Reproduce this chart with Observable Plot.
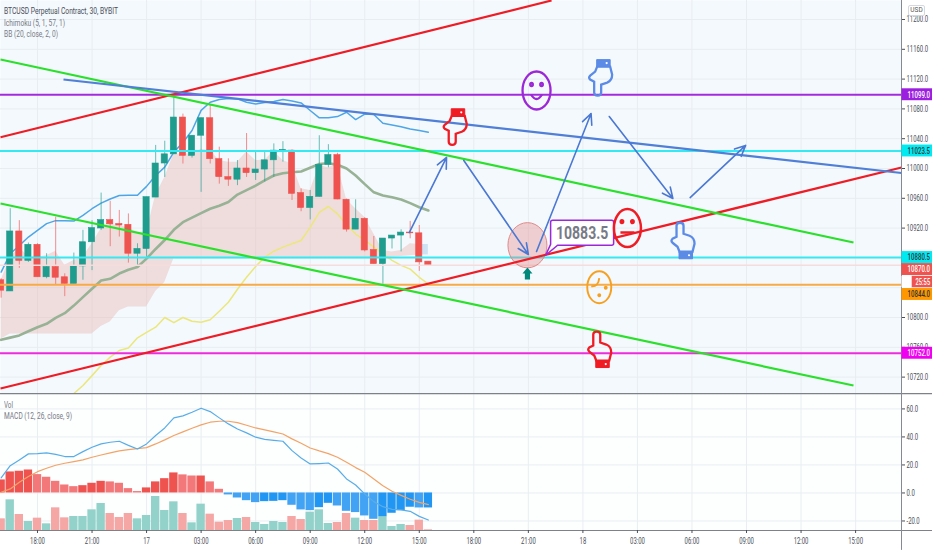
<!DOCTYPE html>
<html><head><meta charset="utf-8">
<script src="https://cdn.jsdelivr.net/npm/d3@7"></script>
<script src="https://cdn.jsdelivr.net/npm/@observablehq/plot@0.6"></script>
<style>
html,body{margin:0;padding:0;background:#fff;overflow:hidden}
#wrap{position:relative;width:932px;height:550px;font-family:Roboto,sans-serif}
svg{display:block}
.lg{position:absolute;left:4px;font-size:9.5px;line-height:11px;color:#787b86;white-space:nowrap;transform-origin:0 50%}
#usd{position:absolute;left:908px;top:5px;width:15px;height:9px;border:1px solid #d5d8de;border-radius:2px;background:#fff;font-size:6.5px;line-height:9px;text-align:center;color:#555}
</style></head><body>
<div id="wrap">
<div id="main"></div><div id="sub"></div>
<div class="lg" data-w="114" style="top:5px;color:#4a4e58">BTCUSD Perpetual Contract, 30, BYBIT</div>
<div class="lg" data-w="61" style="top:17px">Ichimoku (5, 1, 57, 1)</div>
<div class="lg" data-w="54" style="top:28px">BB (20, close, 2, 0)</div>
<div class="lg" data-w="9" style="top:399px">Vol</div>
<div class="lg" data-w="68" style="top:410px">MACD (12, 26, close, 9)</div>
<div id="usd">USD</div>
</div>
<script>
// half-hour bars, index 0 = 18:00
const firstBar = -4;
const opens = [10850,10835,10915.5,10876,10897.6,10854,10867.7,10854,10845,10868.6,10901,10919.5,10930.7,10925.5,10924.4,10885.6,10892,10961,11006.7,11019,11068.4,11017,11044,11067.5,11012.5,10988.4,10985,11000,10993.7,10998.6,11011,11024,11024,10967,10947,10962,11005,11018,10958,10918,10932.5,10890.7,10871.7,10906,10910,10914,10913,10875];
const highs = [10852,10946,10930,10900,10899,10885.6,10934.7,10858.7,10886.5,10917,10930,10967,10956,10943.7,10939,10899,10961.5,11031,11036.6,11096.5,11073,11044,11067.5,11084.5,11028.6,11013,11010.7,11047,11022,11022,11033,11036,11025,10972.7,10970.5,11044,11032,11020.5,10959,10958,10934,10908.8,10906,10910,10917.7,10929,10923.5,10875];
const lows = [10826,10835,10866,10874,10854,10852,10844,10828,10845,10850,10863,10917,10895,10908,10873,10870,10881,10961,10988,11019,11006,11014,10968,11006,10979,10976,10977,10988,10984,10982,10988,11008.5,10957,10942,10931,10961.5,11001,10958,10914.6,10918,10888,10871.7,10844.4,10892,10888,10905.7,10862,10870];
const closes = [10836,10915.5,10876,10897.6,10854,10867.7,10853.4,10845,10868.6,10901,10920,10930.7,10925,10923.5,10885.6,10892,10961.5,11006.7,11019,11068.4,11017,11044,11067.5,11012.5,10988.4,10985,11000,10993.7,10998.6,11011,11024,11024.6,10966,10947,10962,11005,11018,10958.4,10918,10932.5,10890,10871.7,10906,10910,10914,10913,10874,10870];
const cloudTop = [10850,10880,10894,10881,10881,10883,10889,10870,10876.6,10881,10899,10919,10925,10923.5,10920,10914.6,10914.6,10964,10988,11019.6,11019,11019.7,11026,11024,11010.7,11008.5,11008.5,11022,11010.7,11011,11023,11010.7,11006,10972.7,10970.5,11004,11001,11006,10958.4,10946,10934.7,10912,10890,10888,10890,10899,10898,10898];
const cloudBottom = [10771,10778,10778,10778,10778,10778,10778,10778,10778,10778,10778,10788,10794,10809,10814,10814,10814,10835,10847,10879,10879,10879,10879,10879,10879,10879,10879,10879,10879,10879,10879,10879,10879,10879,10879,10879,10879,10879,10879,10879,10879,10879,10880,10881,10882,10883,10884,10884];
const blueLine = [10861,10885.6,10896.7,10908,10917,10926,10930,10930,10929.5,10937,10946,10953.5,10959,10963.8,10964,10964,10976,10990.6,11001.8,11022,11035,11051,11078,11089,11092.5,11094,11093.4,11089,11086.7,11088.5,11090,11092.5,11090.7,11088,11077.8,11068,11068,11069.7,11075.5,11065.7,11073,11072.4,11060.8,11058.5,11056,11053,11051,11048.7];
const greenLine = [10770,10773,10776,10781.6,10787,10791.5,10799.6,10805.8,10816,10827.3,10838.5,10849.7,10852,10859,10864,10867.7,10879,10892,10904,10917.7,10928,10934,10940,10946,10950,10955,10965,10971,10977,10984,10990.6,10993.7,10995,10996,11001,11006,11007,11005,11000,10990.6,10979,10968,10963.8,10961.5,10958.4,10953.5,10948,10943.7];
const yellowBars = d3.range(4,44);
const yellowLine = [10698,10708.7,10722,10735.6,10746.8,10755.7,10759,10772.7,10780,10787,10800,10793,10800,10795,10793.7,10797,10808.5,10820.5,10838,10854,10868.6,10881,10889,10894.5,10899,10903.4,10921,10941,10949,10939,10925,10912,10904,10894.5,10885.6,10876.6,10870,10865,10854,10845];
const volumes = [35,92,48,27,37,20,68,38,42,42,62,81,51,39,51,35,45,102,60,86,51,23,79,49,25,30,36,39,24,18,27,24,42,33,55,62,21,24,51,37,30,30,42,12,18,15,31,2];
const macdHist = [9.3,15,15.5,16.4,13.1,11.2,8.3,5.7,4.5,5.2,6.9,8.3,7.9,6.9,3.1,1,3.6,7.9,10.2,14.3,12.9,12.1,12.1,7.9,2.6,-1.4,-3.6,-5.5,-6.9,-6.2,-6,-5.5,-8.8,-12.1,-12.6,-10.5,-7.4,-9.3,-13.1,-14,-16.4,-18.8,-16.9,-14.5,-12.6,-10.2,-10.7,-10.7];
const macdLine = [10.7,19.5,23.6,27.9,28.1,28.6,27.6,26,26,29.5,32.6,35,36.2,36.9,34,31.4,35,41,46.4,53.6,55,57.6,60.5,58.1,53.6,49.3,45.7,42.9,39.8,38.3,37.6,36.9,30.2,25,20.7,21,21.4,17.1,10,5.7,-0.7,-6.2,-9.8,-11.7,-12.1,-13.1,-16.7,-19.3];
const signalLine = [0.5,2.9,7.6,11.7,15.2,17.6,19.8,21.2,22.4,23.6,25.5,27.1,28.6,30,31,31.7,32.4,35,37.9,41,43.6,46.2,48.6,50.5,51.2,51.2,50.2,48.3,46.4,45,43.6,42.1,38.6,35.5,32.1,30,28.1,25.5,21.9,18.1,14.8,10,5.2,1.2,-1.7,-4.5,-6.7,-8.3];

const timeTicks = [0,6,12,18,24,30,36,42,48,54,60,66,72,78,84,90];
const timeLabels = ["18:00","21:00","17","03:00","06:00","09:00","12:00","15:00","18:00","21:00","18","03:00","06:00","09:00","12:00","15:00"];
const priceTicks = [10720,10760,10800,10840,10880,10920,10960,11000,11040,11080,11120,11160,11200];
const priceLabelled = [10720,10760,10800,10920,10960,11000,11040,11080,11120,11160,11200];
const macdTicks = [-20,0,20,40,60];

const levelPrices = [11099,11023.5,10880.5,10870,10844,10752];
const levelColors = ["#a32bdc","#35e9f2","#35e9f2","#f6dcdc","#f8aa45","#ee2bde"];
const levelWidths = [2,2,2,1.5,2,2];

const tagPrices = [11099,11023.5,10880.5,10864.4,10830.9,10752];
const tagLabels = ["11099.0","11023.5","10880.5","10870.0","10844.0","10752.0"];
const tagFills = ["#9c1fe0","#00eaf2","#00eaf2","#ef5350","#ff9800","#f000f0"];
const tagText = ["#fff","#333","#333","#fff","#333","#fff"];

const trendX1 = [-4.07,-4.07,-4.07,-4.07,2.86];
const trendP1 = [11042,10704.7,11146.3,10953,11119.5];
const trendX2 = [56.55,95.05,89.77,89.77,95.05];
const trendP2 = [11225.5,11001.3,10900.7,10708.7,10994];
const trendColors = ["#ee1c25","#ee1c25","#2be02b","#2be02b","#4f7fd6"];

const arrowX1 = [40.9,46.9,54.9,62.9,71.8];
const arrowP1 = [10914,11010.7,10888.6,11069.8,10961];
const arrowX2 = [45,54,60.9,69.9,77.9];
const arrowP2 = [11014.8,10884.6,11073.8,10959.7,11031];

const bars = opens.map((o,k)=>({i:firstBar+k,o,h:highs[k],l:lows[k],c:closes[k],top:cloudTop[k],bot:cloudBottom[k],blue:blueLine[k],green:greenLine[k],vol:volumes[k],hist:macdHist[k],prev:k?macdHist[k-1]:0,macd:macdLine[k],sig:signalLine[k]}));
const yellow = yellowLine.map((p,k)=>({i:yellowBars[k],p}));
const GREEN="#1f9c8d", RED="#ef5350";
const up=d=>d.c>=d.o;

// icon shapes
function ell(c,x,y,rx,ry){const k=.5523;c.moveTo(x+rx,y);c.bezierCurveTo(x+rx,y+k*ry,x+k*rx,y+ry,x,y+ry);c.bezierCurveTo(x-k*rx,y+ry,x-rx,y+k*ry,x-rx,y);c.bezierCurveTo(x-rx,y-k*ry,x-k*rx,y-ry,x,y-ry);c.bezierCurveTo(x+k*rx,y-ry,x+rx,y-k*ry,x+rx,y);c.closePath();}
const hand=s=>({draw(c){
  c.moveTo(-6,s*-4);c.lineTo(-6,s*-15);c.quadraticCurveTo(-6,s*-18,-2.5,s*-18);c.quadraticCurveTo(1,s*-18,1,s*-15);c.lineTo(1,s*-7);
  c.lineTo(7,s*-5);c.quadraticCurveTo(12,s*-3,12,s*3);c.lineTo(10,s*11);c.lineTo(-3,s*11);c.lineTo(-5,s*6);c.lineTo(-10,s*2);c.quadraticCurveTo(-12,0,-10,s*-2);c.closePath();
}});
const cuff=s=>({draw(c){c.moveTo(-3.5,s*11);c.lineTo(10,s*11);c.lineTo(10,s*18);c.lineTo(-3.5,s*18);c.closePath();}});
const faceSmile={draw(c){ell(c,0,0,14,19);ell(c,-5,-6,1.3,1.5);ell(c,5,-6,1.3,1.5);c.moveTo(-5.5,4);c.quadraticCurveTo(0,13,5.5,4);}};
const faceFlat={draw(c){ell(c,0,0,13.5,19);ell(c,-5.5,-6.5,1.2,1.4);ell(c,5,-6.5,1.2,1.4);c.moveTo(-7,4.5);c.lineTo(7,4.5);}};
const faceOdd={draw(c){ell(c,0,0,12,16);c.moveTo(-8,-1);c.quadraticCurveTo(-1,0,0,-9);ell(c,0,8,1,1);ell(c,6.5,.5,1,1);}};
const upMark={draw(c){c.moveTo(0,-6);c.lineTo(5,0);c.lineTo(2.6,0);c.lineTo(2.6,6);c.lineTo(-2.6,6);c.lineTo(-2.6,0);c.lineTo(-5,0);c.closePath();}};
const zone={draw(c){ell(c,0,0,19.5,22.6);}};
const callout={draw(c){c.moveTo(0,0);c.lineTo(5,-11);c.lineTo(5,-33);c.quadraticCurveTo(5,-35,7,-35);c.lineTo(66,-35);c.quadraticCurveTo(68,-35,68,-33);c.lineTo(68,-12);c.quadraticCurveTo(68,-10,66,-10);c.lineTo(12,-10);c.closePath();}};

const handsDown=[{i:45.9,p:11056,col:"#f01c24"},{i:61.9,p:11122,col:"#5b8be6"}];
const handsUp=[{i:70.96,p:10903,col:"#5b8be6"},{i:61.8,p:10757,col:"#f01c24"}];
const allHands=[...handsDown.map(d=>({...d,s:-1})),...handsUp.map(d=>({...d,s:1}))];
const handMarks=allHands.flatMap(d=>[
  Plot.dot([d],{x:"i",y:"p",symbol:hand(d.s),stroke:d.col,fill:"none",strokeWidth:2.3}),
  Plot.dot([d],{x:"i",y:"p",symbol:cuff(d.s),stroke:d.col,fill:d.col,strokeWidth:1}),
  Plot.dot([d],{x:"i",y:"p",r:1.1,fill:"#fff",dx:6.5,dy:d.s*14.5})
]);

const font='Roboto,sans-serif';
const xDomain=[-4.07,95.05];
const main=Plot.plot({
  width:932,height:393,marginTop:0,marginBottom:0,marginLeft:0,marginRight:31,
  x:{domain:xDomain,axis:null},
  y:{domain:[10698,11225.5],axis:null},
  style:{background:"#fff",fontFamily:font,color:"#4a4e58",overflow:"hidden"},
  marks:[
    Plot.frame({fill:"#f4f9fd",stroke:"none"}),
    Plot.gridX(timeTicks,{stroke:"#e8edf2",strokeOpacity:1}),
    Plot.gridY(priceTicks,{stroke:"#e8edf2",strokeOpacity:1}),
    Plot.areaY(bars.filter(d=>d.i<=42),{x:"i",y1:"bot",y2:"top",fill:"#e9b9b5",fillOpacity:.44}),
    Plot.areaY(bars.filter(d=>d.i>=42),{x:"i",y1:"bot",y2:"top",fill:"#bcd8ec",fillOpacity:.7}),
    Plot.line(bars,{x:"i",y:"green",stroke:"#97b294",strokeWidth:2.6}),
    Plot.line(yellow,{x:"i",y:"p",stroke:"#ebe77a",strokeWidth:1.5}),
    Plot.line(bars,{x:"i",y:"blue",stroke:"#4ea6e6",strokeWidth:1.5}),
    Plot.ruleX(bars,{x:"i",y1:"l",y2:"h",stroke:d=>up(d)?GREEN:RED,strokeWidth:1,strokeOpacity:.65}),
    Plot.rect(bars,{x1:d=>d.i-.34,x2:d=>d.i+.34,y1:"o",y2:"c",fill:d=>up(d)?GREEN:RED,stroke:d=>up(d)?GREEN:RED,strokeWidth:.6}),
    Plot.ruleY(levelPrices,{y:d=>d,stroke:(d,k)=>levelColors[k],strokeWidth:(d,k)=>levelWidths[k]}),
    Plot.dot([{i:53.9,p:10897}],{x:"i",y:"p",symbol:zone,fill:"#e5888a",fillOpacity:.38,stroke:"#e08a8a",strokeWidth:1}),
    Plot.link(trendX1,{x1:d=>d,y1:(d,k)=>trendP1[k],x2:(d,k)=>trendX2[k],y2:(d,k)=>trendP2[k],stroke:(d,k)=>trendColors[k],strokeWidth:2.2}),
    Plot.arrow(arrowX1,{x1:d=>d,y1:(d,k)=>arrowP1[k],x2:(d,k)=>arrowX2[k],y2:(d,k)=>arrowP2[k],stroke:"#4a78d2",strokeWidth:1.6,headLength:11,headAngle:50,bend:0}),
    Plot.dot([{i:53.9,p:10859}],{x:"i",y:"p",symbol:upMark,fill:"#00897b",stroke:"none"}),
    Plot.dot([{i:55.9,p:10883.5}],{x:"i",y:"p",symbol:callout,fill:"#fff",stroke:"#9c27d6",strokeWidth:1.5}),
    Plot.text(["10883.5"],{x:()=>55.9,y:()=>10883.5,text:d=>d,dx:36.5,dy:-22,fontSize:18,fontWeight:"bold",fill:"#787b86"}),
    Plot.dot([{i:54.9,p:11104.7}],{x:"i",y:"p",symbol:faceSmile,fill:"none",stroke:"#9c27d6",strokeWidth:2.3}),
    Plot.dot([{i:64.9,p:10920}],{x:"i",y:"p",symbol:faceFlat,fill:"none",stroke:"#f01c24",strokeWidth:2.5}),
    Plot.dot([{i:61.8,p:10840.7}],{x:"i",y:"p",symbol:faceOdd,fill:"none",stroke:"#f7a020",strokeWidth:1.9}),
    ...handMarks,
    Plot.ruleX([95.05],{stroke:"#868993",strokeWidth:1}),
    Plot.axisY(priceLabelled,{anchor:"right",tickFormat:d=>d.toFixed(1),tickSize:3,tickPadding:2,fontSize:9,label:null}),
    Plot.rect(tagPrices,{x1:()=>95.1,x2:()=>98.6,y1:d=>d-8,y2:d=>d+8,fill:(d,k)=>tagFills[k]}),
    Plot.text(tagPrices,{x:()=>96.95,y:d=>d,text:(d,k)=>tagLabels[k],fill:(d,k)=>tagText[k],fontSize:9.2,fontWeight:500}),
    Plot.rect(["25:55"],{x1:()=>96.2,x2:()=>98.6,y1:()=>10839.9,y2:()=>10855.3,fill:"#ef5350"}),
    Plot.rect(["25:55"],{x1:()=>95.1,x2:()=>96.2,y1:()=>10839.9,y2:()=>10855.3,fill:"#fff"}),
    Plot.text(["25:55"],{x:()=>97.4,y:()=>10847.6,text:d=>d,fill:"#fff",fontSize:8.7,fontWeight:500})
  ]
});
document.getElementById("main").append(main);

const sub=Plot.plot({
  width:932,height:157,marginTop:0,marginBottom:20,marginLeft:0,marginRight:31,
  x:{domain:xDomain,axis:null},
  y:{domain:[-26.8,71],axis:null},
  style:{background:"#fff",fontFamily:font,color:"#4a4e58",overflow:"hidden"},
  marks:[
    Plot.frame({fill:"#fdfefe",stroke:"none"}),
    Plot.gridX(timeTicks,{stroke:"#eaeef2",strokeOpacity:1}),
    Plot.gridY(macdTicks,{stroke:"#eaeef2",strokeOpacity:1}),
    Plot.rect(bars,{x1:d=>d.i-.46,x2:d=>d.i+.46,y1:()=>-26.8,y2:d=>-26.8+d.vol*.238,fill:d=>up(d)?"#93d2ca":"#f5a7a6"}),
    Plot.rect(bars,{x1:d=>d.i-.46,x2:d=>d.i+.46,y1:()=>0,y2:"hist",fill:d=>d.hist>=0?(d.hist>=d.prev?"#ef5350":"#f3787a"):(d.hist>=d.prev?"#2196f3":"#42a3f4")}),
    Plot.line(bars,{x:"i",y:"sig",stroke:"#f2a468",strokeWidth:1.2}),
    Plot.line(bars,{x:"i",y:"macd",stroke:"#58ade8",strokeWidth:1.2}),
    Plot.ruleY([71],{x1:xDomain[0],x2:98.6,stroke:"#7e8288",strokeWidth:1.6}),
    Plot.ruleY([-26.8],{x1:xDomain[0],x2:98.6,stroke:"#7e8288",strokeWidth:1.2}),
    Plot.ruleX([95.05],{y1:-41,y2:71,stroke:"#868993",strokeWidth:1}),
    Plot.axisY(macdTicks,{anchor:"right",tickFormat:d=>d.toFixed(1),tickSize:3,tickPadding:2,fontSize:9,label:null}),
    Plot.axisX(timeTicks,{anchor:"bottom",tickFormat:d=>timeLabels[timeTicks.indexOf(d)],tickSize:3,tickPadding:4,fontSize:9,label:null})
  ]
});
document.getElementById("sub").append(sub);

// the reference's lettering is condensed: narrow every label horizontally about its own anchor
for (const svg of [main,sub]) d3.select(svg).selectAll("text").each(function(){
  const big=parseFloat(getComputedStyle(this).fontSize)>=15;
  const f=big?.78:.66;
  const ax=+(this.getAttribute("x")||0);
  const t=this.getAttribute("transform")||"";
  this.setAttribute("transform",`${t} translate(${ax},0) scale(${f},1) translate(${-ax},0)`);
});
document.querySelectorAll(".lg").forEach(el=>{
  el.style.transform=`scaleX(${(+el.dataset.w)/el.getBoundingClientRect().width})`;
});
</script>
</body></html>
